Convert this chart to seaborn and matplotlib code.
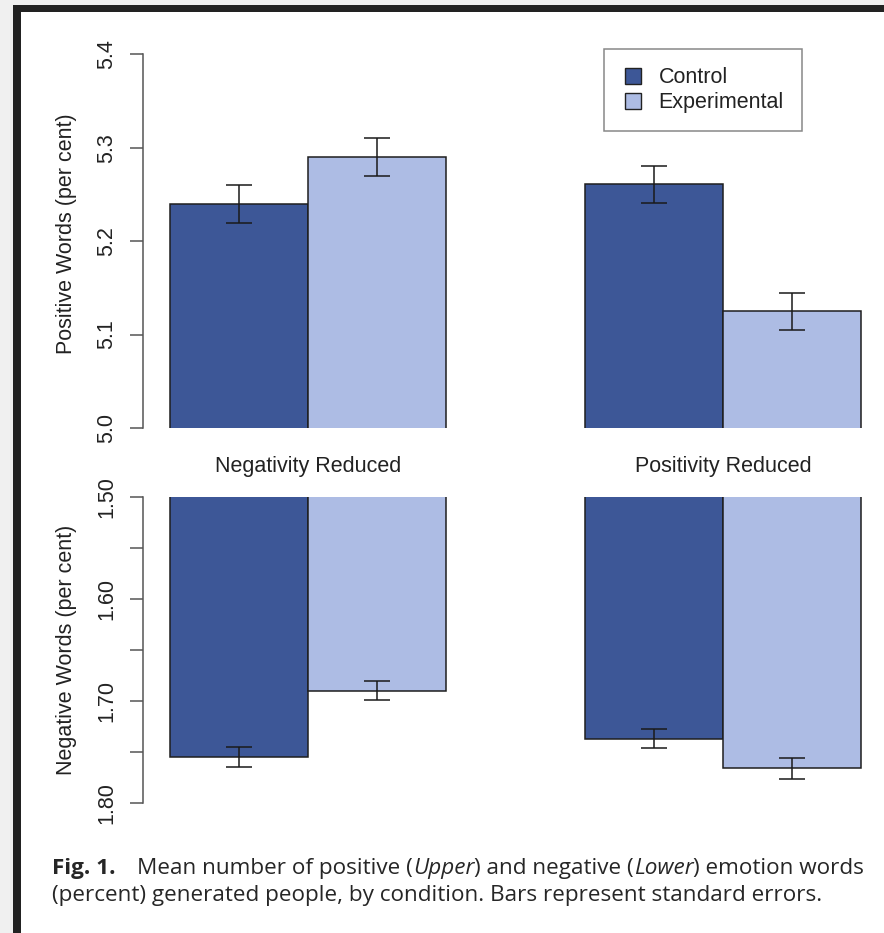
import matplotlib
matplotlib.use("Agg")
import matplotlib.pyplot as plt
import pandas as pd
import seaborn as sns
from matplotlib.patches import Rectangle
from matplotlib.lines import Line2D

# ---- data -------------------------------------------------------------
conditions = ["Negativity Reduced", "Positivity Reduced"]
groups = ["Control", "Experimental"]

positive_control = [5.240, 5.261]
positive_experimental = [5.290, 5.125]
positive_se_control = [0.020, 0.020]
positive_se_experimental = [0.020, 0.020]

negative_control = [1.755, 1.737]
negative_experimental = [1.690, 1.766]
negative_se_control = [0.0095, 0.0095]
negative_se_experimental = [0.0095, 0.0100]

positive_ticks = [5.0, 5.1, 5.2, 5.3, 5.4]
positive_ticklabels = ["5.0", "5.1", "5.2", "5.3", "5.4"]
negative_ticks = [1.50, 1.55, 1.60, 1.65, 1.70, 1.75, 1.80]
negative_ticklabels = ["1.50", "", "1.60", "", "1.70", "", "1.80"]

caption_line1 = [("Fig. 1.", "bold"), ("Mean number of positive (", "normal"),
                 ("Upper", "italic"), (") and negative (", "normal"),
                 ("Lower", "italic"), (") emotion words", "normal")]
caption_line2 = "(percent) generated people, by condition. Bars represent standard errors."

# ---- style ------------------------------------------------------------
sns.set_style("white")
plt.rcParams["font.family"] = ["Liberation Sans", "DejaVu Sans"]

control_color = "#3D5797"
experimental_color = "#ADBCE4"
palette = [control_color, experimental_color]
edge_color = "#1e1e1e"
axis_color = "#555555"
text_color = "#222222"
fs = 15.5

W, H = 884, 933
fig = plt.figure(figsize=(W / 100, H / 100), dpi=100)


def px_rect(left, top, right, bottom):
    return [left / W, 1 - bottom / H, (right - left) / W, (bottom - top) / H]


# page frame (scanned border on top and left)
for (l, t, r, b, c) in [(0, 0, W, 5, "#f0f0f0"), (0, 0, 13, H, "#f0f0f0"),
                        (13, 5, W, 12, "#222222"), (13, 5, 21, H, "#222222")]:
    fig.add_artist(Rectangle((l / W, 1 - b / H), (r - l) / W, (b - t) / H,
                             transform=fig.transFigure, color=c, lw=0, zorder=0))

ax_top = fig.add_axes(px_rect(143, 40, 875, 428))
ax_bot = fig.add_axes(px_rect(143, 497, 875, 803))


def long_frame(ctrl, expt, se_c, se_e):
    rows = []
    for g, vals, ses in [("Control", ctrl, se_c), ("Experimental", expt, se_e)]:
        for cond, v, s in zip(conditions, vals, ses):
            rows.append({"condition": cond, "group": g, "value": v, "se": s})
    return pd.DataFrame(rows)


df_pos = long_frame(positive_control, positive_experimental,
                    positive_se_control, positive_se_experimental)
df_neg = long_frame(negative_control, negative_experimental,
                    negative_se_control, negative_se_experimental)

for ax, df in [(ax_top, df_pos), (ax_bot, df_neg)]:
    sns.barplot(data=df, x="condition", y="value", hue="group",
                order=conditions, hue_order=groups, palette=palette,
                saturation=1, width=2 / 3, errorbar=None,
                edgecolor=edge_color, linewidth=1.1, legend=False, ax=ax)
    # standard-error whiskers at the centre of each bar
    for patch in list(ax.patches):
        h = patch.get_height()
        row = df.iloc[(df["value"] - h).abs().argmin()]
        ax.errorbar(patch.get_x() + patch.get_width() / 2, row["value"],
                    yerr=row["se"], fmt="none", ecolor="#1a1a1a",
                    elinewidth=1.1, capsize=9.7, capthick=1.1, zorder=5)
    ax.set_xlim(-0.3976, 1.366)
    ax.set_xlabel("")
    for side in ["top", "right", "bottom"]:
        ax.spines[side].set_visible(False)
    ax.spines["left"].set_color(axis_color)
    ax.spines["left"].set_linewidth(1.1)
    ax.tick_params(axis="y", direction="out", length=9.4, width=1.1,
                   color=axis_color, labelsize=fs, labelcolor=text_color,
                   pad=9, left=True)

# upper panel: positive words
ax_top.set_ylim(5.0, 5.0 + 388 / 934)
ax_top.set_yticks(positive_ticks)
ax_top.set_yticklabels(positive_ticklabels, rotation=90, va="center")
ax_top.spines["left"].set_bounds(5.0, 5.4)
ax_top.tick_params(axis="x", length=0, pad=20, labelsize=fs, labelcolor=text_color)
ax_top.set_ylabel("Positive Words (per cent)", fontsize=fs, color=text_color)
ax_top.yaxis.set_label_coords(-0.0895, 0.5)

# lower panel: negative words, axis runs downward
ax_bot.set_ylim(1.80, 1.50)
ax_bot.set_yticks(negative_ticks)
ax_bot.set_yticklabels(negative_ticklabels, rotation=90, va="center")
ax_bot.spines["left"].set_bounds(1.50, 1.80)
ax_bot.set_xticks([])
ax_bot.set_ylabel("Negative Words (per cent)", fontsize=fs, color=text_color)
ax_bot.yaxis.set_label_coords(-0.0895, 0.5)

# legend
handles = [Line2D([], [], marker="s", ls="none", markersize=11,
                  markerfacecolor=c, markeredgecolor="#222222", markeredgewidth=1)
           for c in palette]
leg = ax_top.legend(handles, groups, loc="upper left",
                    bbox_to_anchor=(604 / W, 1 - 49 / H),
                    bbox_transform=fig.transFigure, borderaxespad=0,
                    borderpad=0.84, handlelength=1.02, handletextpad=0.68,
                    labelspacing=0.2, fancybox=False, framealpha=1,
                    edgecolor="#888888", fontsize=fs)
leg.get_frame().set_linewidth(1.1)
for t in leg.get_texts():
    t.set_color(text_color)

# caption
cap_font = ["Open Sans", "DejaVu Sans"]
cap_size = 16.2
cap_color = "#262626"
renderer = fig.canvas.get_renderer()


def place_pieces(pieces, x0, baseline):
    x = x0
    for i, (txt, style) in enumerate(pieces):
        kw = {"fontweight": "bold"} if style == "bold" else {}
        if style == "italic":
            kw["fontstyle"] = "italic"
        t = fig.text(x / W, 1 - baseline / H, txt, ha="left", va="baseline",
                     fontsize=cap_size, family=cap_font, color=cap_color, **kw)
        x = t.get_window_extent(renderer).x1
        if i == 0 and style == "bold":
            x = 137


place_pieces(caption_line1, 52, 874)
place_pieces([(caption_line2, "normal")], 52, 901)

fig.savefig("out.png", dpi=100)
